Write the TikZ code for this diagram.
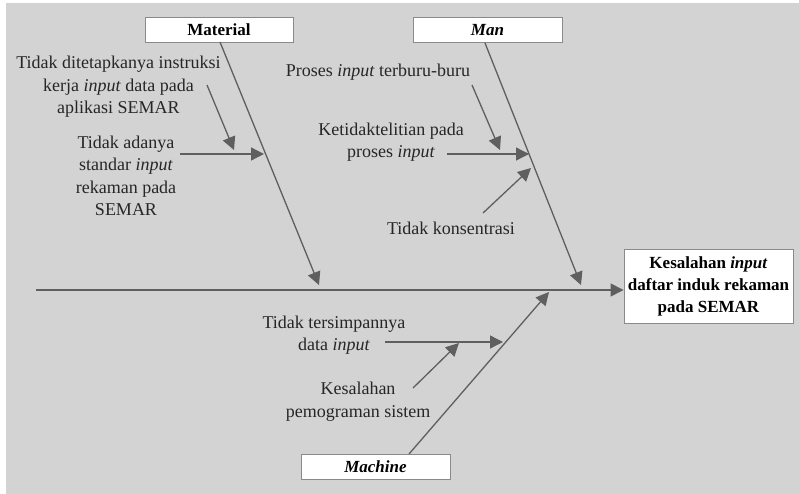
\documentclass[tikz,border=0pt]{standalone}
\usepackage{fontspec}
\setmainfont{Liberation Serif}
\usetikzlibrary{arrows.meta}
\definecolor{bg}{HTML}{D3D3D3}
\definecolor{bone}{HTML}{5F5F5F}
\definecolor{frame}{HTML}{8A8A8A}
\tikzset{
  cat/.style={draw=frame, line width=0.9pt, fill=white, minimum width=148pt,
    minimum height=25pt, inner sep=0pt, font=\fontsize{17}{20}\selectfont\bfseries},
  effect/.style={draw=frame, line width=0.9pt, fill=white, minimum width=169pt,
    minimum height=74pt, inner sep=0pt, align=center,
    font=\fontsize{17}{22}\selectfont\bfseries},
  cause/.style={align=center, inner sep=0pt, text=black!85,
    font=\fontsize{18}{22.5}\selectfont},
  bonearrow/.style={draw=bone, line width=1.3pt,
    -{Triangle[length=13pt,width=13pt]}},
}
\begin{document}
\begin{tikzpicture}[x=1pt,y=-1pt]
\useasboundingbox (0,0) rectangle (799,494);
\fill[bg] (6,3) rectangle (799,494);

% category boxes and the effect box
\node[cat] (mat) at (219,29.5) {Material};
\node[cat, minimum width=149pt] (man) at (487.5,30) {\itshape Man};
\node[cat, minimum width=149pt] (mach) at (375.5,467) {\itshape Machine};
\node[effect] (eff) at (708.5,286) {Kesalahan \textit{input}\\daftar induk rekaman\\pada SEMAR};

% cause labels
\node[cause] (t1) at (118.5,87) {Tidak ditetapkanya instruksi\\kerja \textit{input} data pada\\aplikasi SEMAR};
\node[cause] (t2) at (126,176) {Tidak adanya\\standar \textit{input}\\rekaman pada\\SEMAR};
\node[cause] (t3) at (378,72) {Proses \textit{input} terburu-buru};
\node[cause] (t4) at (391,142) {Ketidaktelitian pada\\proses \textit{input}};
\node[cause] (t5) at (451,228) {Tidak konsentrasi};
\node[cause] (t6) at (334,335) {Tidak tersimpannya\\data \textit{input}};
\node[cause] (t7) at (358,401.5) {Kesalahan\\pemograman sistem};

% spine
\coordinate (tail) at (36,290);
\draw[bonearrow] (tail) -- (eff.west |- tail);

% main bones
\coordinate (matTop) at (220,42);
\coordinate (matTip) at (319,285);
\coordinate (manTop) at (485,43);
\coordinate (manTip) at (581,285);
\coordinate (machBot) at (409,454);
\coordinate (machTip) at (549,292);
\draw[bonearrow] (matTop) -- (matTip);
\draw[bonearrow] (manTop) -- (manTip);
\draw[bonearrow] (machBot) -- (machTip);

% material causes
\coordinate (a1s) at (207,85);
\coordinate (a1e) at (234,150);
\coordinate (a2s) at (180,154);
\coordinate (a2e) at (264,154);
\draw[bonearrow] (a1s) -- (a1e);
\draw[bonearrow] (a2s) -- (a2e);

% man causes
\coordinate (b1s) at (472,85);
\coordinate (b1e) at (500,150);
\coordinate (b2s) at (447,154);
\coordinate (b2e) at (529,154);
\coordinate (b3s) at (483,213);
\coordinate (b3e) at (531,168);
\draw[bonearrow] (b1s) -- (b1e);
\draw[bonearrow] (b2s) -- (b2e);
\draw[bonearrow] (b3s) -- (b3e);

% machine causes
\coordinate (c1s) at (385,342);
\coordinate (c1e) at (503,342);
\coordinate (c2s) at (413,388);
\coordinate (c2e) at (459,343);
\draw[bonearrow] (c1s) -- (c1e);
\draw[bonearrow] (c2s) -- (c2e);
\end{tikzpicture}
\end{document}
